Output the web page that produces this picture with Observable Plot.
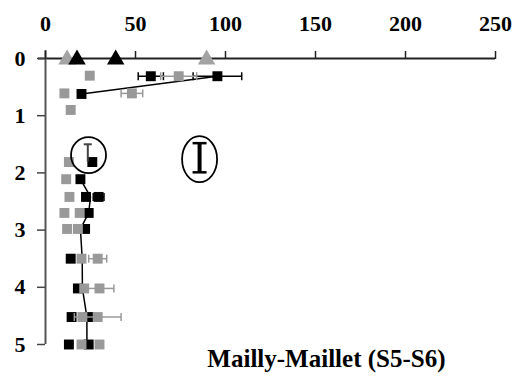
<!DOCTYPE html>
<html>
<head>
<meta charset="utf-8">
<script src="https://cdn.jsdelivr.net/npm/d3@7"></script>
<script src="https://cdn.jsdelivr.net/npm/@observablehq/plot@0.6"></script>
<style>
  html, body { margin: 0; padding: 0; background: #fff; }
  #chart { width: 515px; height: 377px; }
</style>
</head>
<body>
<div id="chart"></div>
<script>
// ---- data ----
const xTicks = [0, 50, 100, 150, 200, 250];
const yTicks = [0, 1, 2, 3, 4, 5];
const caption = "Mailly-Maillet (S5-S6)";

// black squares: depth, value, error (±)
const blackDepth = [0.31, 0.31, 0.62, 1.81, 2.11, 2.42, 2.42, 2.70, 2.98, 3.50, 4.02, 4.52, 4.52, 5.00, 5.00];
const blackValue = [58.5, 95.5, 20, 26, 19.4, 22.5, 29.5, 24, 22, 14, 18, 14.5, 24, 13, 24];
const blackError = [7, 13.5, 0, 0, 0, 0, 3, 0, 0, 0, 0, 0, 0, 0, 0];

// grey squares: depth, value, error (±)
const greyDepth = [0.30, 0.31, 0.61, 0.61, 0.90, 1.81, 2.11, 2.42, 2.70, 2.70, 2.98, 2.98, 3.50, 3.50, 4.02, 4.02, 4.52, 4.52, 5.00, 5.00];
const greyValue = [24.6, 74, 10.5, 48, 14, 13, 11.5, 13.3, 10.5, 19, 12, 18, 20, 29, 21.5, 30, 20.5, 29, 20, 30];
const greyError = [0, 10, 0, 6, 0, 0, 0, 0, 0, 0, 0, 0, 0, 5, 0, 8, 0, 13, 0, 0];

// triangles at the surface
const greyTriDepth = [0, 0];
const greyTriValue = [12, 89.5];
const blackTriDepth = [0, 0];
const blackTriValue = [17.5, 39];

// profile line (two segments)
const lineSegment = ["a", "a", "b", "b", "b", "b", "b", "b", "b", "b"];
const lineDepth = [0.31, 0.62, 2.11, 2.42, 2.70, 2.98, 3.50, 4.02, 4.52, 5.00];
const lineValue = [95.5, 20, 19.4, 25, 24, 19.4, 20.4, 20.5, 23, 23];

// vertical error bar on the circled point
const vErrValue = [23.5];
const vErrLow = [1.81];
const vErrHigh = [1.5];

// annotations: circled point and circled error-bar symbol
const circleValue = [23.9];
const circleDepth = [1.69];
const ovalValue = [85.6];
const ovalDepth = [1.76];
const beamValue = [85.6];
const beamTop = [1.48];
const beamBottom = [1.99];

// ---- build tables ----
const black = blackDepth.map((d, i) => ({d, v: blackValue[i], e: blackError[i]}));
const grey = greyDepth.map((d, i) => ({d, v: greyValue[i], e: greyError[i]}));
const blackErr = black.filter(o => o.e > 0);
const greyErr = grey.filter(o => o.e > 0);
const greyTri = greyTriDepth.map((d, i) => ({d, v: greyTriValue[i]}));
const blackTri = blackTriDepth.map((d, i) => ({d, v: blackTriValue[i]}));
const line = lineDepth.map((d, i) => ({d, v: lineValue[i], z: lineSegment[i]}));
const vErr = vErrValue.map((v, i) => ({v, y1: vErrLow[i], y2: vErrHigh[i]}));
const circles = circleValue.map((v, i) => ({v, d: circleDepth[i]}));
const ovals = ovalValue.map((v, i) => ({v, d: ovalDepth[i]}));
const beams = beamValue.map((v, i) => ({v, y1: beamTop[i], y2: beamBottom[i]}));

// ---- custom symbols ----
const vbar = (h) => ({draw(ctx) { ctx.moveTo(0, -h); ctx.lineTo(0, h); }});
const hbar = (w) => ({draw(ctx) { ctx.moveTo(-w, 0); ctx.lineTo(w, 0); }});
const ellipse = (rx, ry) => ({draw(ctx) {
  const k = 0.5523;
  ctx.moveTo(rx, 0);
  ctx.bezierCurveTo(rx, k * ry, k * rx, ry, 0, ry);
  ctx.bezierCurveTo(-k * rx, ry, -rx, k * ry, -rx, 0);
  ctx.bezierCurveTo(-rx, -k * ry, -k * rx, -ry, 0, -ry);
  ctx.bezierCurveTo(k * rx, -ry, rx, -k * ry, rx, 0);
  ctx.closePath();
}});

const GREY = "#999999";
const GREY_TRI = "#a3a3a3";
const FONT = "'Liberation Serif', 'Times New Roman', serif";
const fmt = d => String(d);

const plot = Plot.plot({
  width: 515,
  height: 377,
  marginLeft: 45,
  marginRight: 20,
  marginTop: 58,
  marginBottom: 33,
  style: {fontFamily: FONT, fontWeight: "bold", fontSize: "22px", background: "#fff", color: "#000"},
  x: {domain: [0, 250], axis: null},
  y: {domain: [0, 5], reverse: true, axis: null},
  marks: [
    // axis lines
    Plot.ruleY([0], {stroke: "#222", strokeWidth: 2, insetLeft: -7}),
    Plot.ruleX([0], {stroke: "#555", strokeWidth: 2, insetTop: -8}),
    Plot.axisX({anchor: "top", ticks: xTicks, tickFormat: fmt, label: null, tickSize: 8, tickPadding: 20, fontSize: 22, fontWeight: "bold", fontFamily: FONT, stroke: "#222", strokeWidth: 1.5}),
    Plot.axisY({anchor: "left", ticks: yTicks, tickFormat: fmt, label: null, tickSize: 8, tickPadding: 12, fontSize: 22, fontWeight: "bold", fontFamily: FONT, stroke: "#444", strokeWidth: 1.5}),

    // profile line
    Plot.line(line, {x: "v", y: "d", z: "z", stroke: "#000", strokeWidth: 1.5, curve: "linear"}),

    // black error bars
    Plot.link(blackErr, {x1: d => d.v - d.e, x2: d => d.v + d.e, y1: "d", y2: "d", stroke: "#000", strokeWidth: 1.5}),
    Plot.dot(blackErr, {x: d => d.v - d.e, y: "d", symbol: vbar(4), stroke: "#000", strokeWidth: 1.5, r: 3}),
    Plot.dot(blackErr, {x: d => d.v + d.e, y: "d", symbol: vbar(4), stroke: "#000", strokeWidth: 1.5, r: 3}),
    Plot.dot(black, {x: "v", y: "d", symbol: "square", r: 5.6, fill: "#000"}),

    // grey error bars and squares
    Plot.link(greyErr, {x1: d => d.v - d.e, x2: d => d.v + d.e, y1: "d", y2: "d", stroke: GREY, strokeWidth: 1.5}),
    Plot.dot(greyErr, {x: d => d.v - d.e, y: "d", symbol: vbar(4), stroke: GREY, strokeWidth: 1.5, r: 3}),
    Plot.dot(greyErr, {x: d => d.v + d.e, y: "d", symbol: vbar(4), stroke: GREY, strokeWidth: 1.5, r: 3}),
    Plot.dot(grey, {x: "v", y: "d", symbol: "square", r: 5.6, fill: GREY}),

    // vertical error bar on the circled point
    Plot.ruleX(vErr, {x: "v", y1: "y1", y2: "y2", stroke: "#444", strokeWidth: 2}),
    Plot.dot(vErr, {x: "v", y: "y2", symbol: hbar(4), stroke: "#444", strokeWidth: 2, r: 3}),

    // triangles
    Plot.dot(greyTri, {x: "v", y: "d", symbol: "triangle", r: 6.5, fill: GREY_TRI, dy: 1}),
    Plot.dot(blackTri, {x: "v", y: "d", symbol: "triangle", r: 6.5, fill: "#000", dy: 1}),

    // annotations
    Plot.dot(circles, {x: "v", y: "d", symbol: ellipse(17.5, 18), stroke: "#000", strokeWidth: 1.8, fill: "none", r: 5}),
    Plot.dot(ovals, {x: "v", y: "d", symbol: ellipse(17.5, 23), stroke: "#000", strokeWidth: 1.8, fill: "none", r: 5}),
    Plot.ruleX(beams, {x: "v", y1: "y1", y2: "y2", stroke: "#000", strokeWidth: 4}),
    Plot.dot(beams, {x: "v", y: "y1", symbol: hbar(7), stroke: "#000", strokeWidth: 2.5, r: 3}),
    Plot.dot(beams, {x: "v", y: "y2", symbol: hbar(7), stroke: "#000", strokeWidth: 2.5, r: 3}),

    // caption
    Plot.text([caption], {frameAnchor: "bottom-right", dx: -50, dy: 22, fontSize: 25, fontWeight: "bold", fontFamily: FONT, fill: "#000"})
  ]
});
document.getElementById("chart").appendChild(plot);
</script>
</body>
</html>
